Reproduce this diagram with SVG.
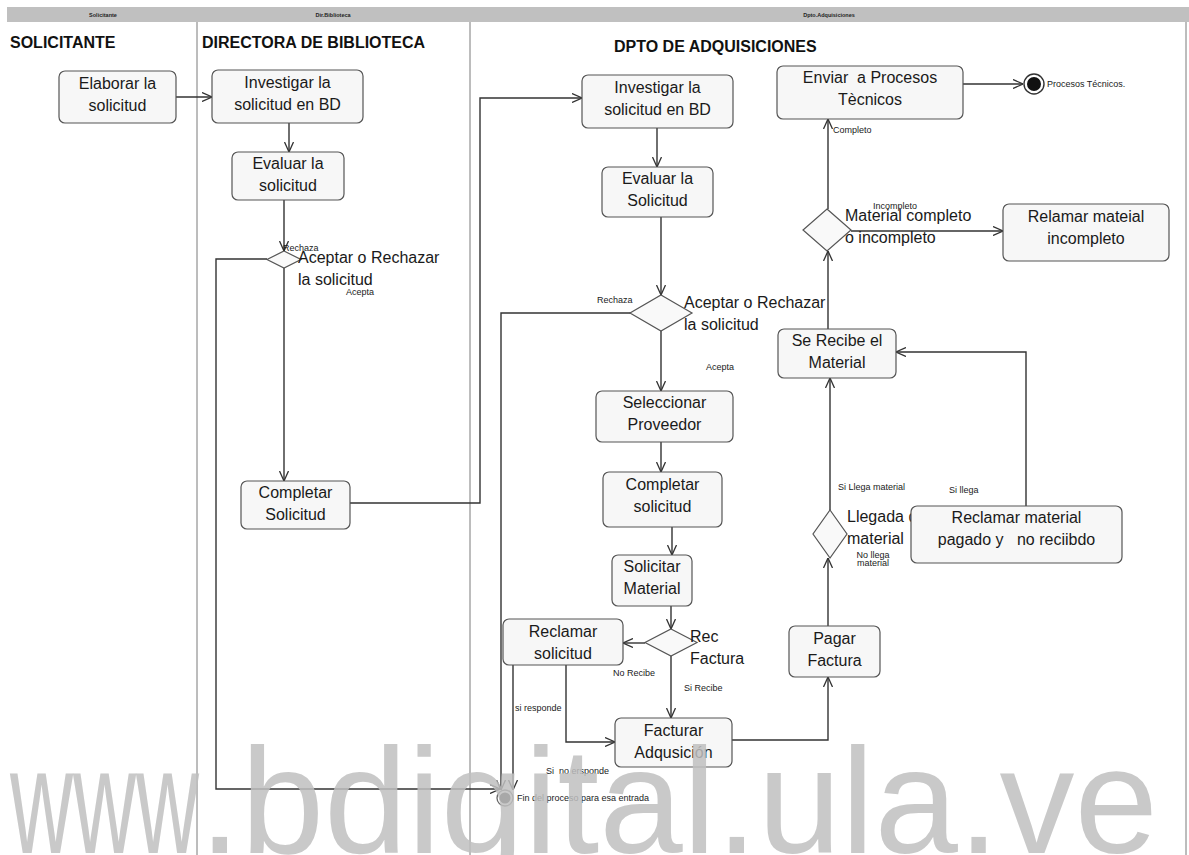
<svg xmlns="http://www.w3.org/2000/svg" width="1189" height="855" viewBox="0 0 1189 855">
  <style>
    .lane { stroke: #7a7a7a; stroke-width: 1; fill: none; }
    .hdr { font-family: "Liberation Sans", Arial, sans-serif; font-size: 5.5px; font-weight: bold; fill: #222; text-anchor: middle; }
    .title { font-family: "Liberation Sans", Arial, sans-serif; font-size: 16px; font-weight: bold; fill: #111; }
    .box { fill: #f7f7f7; stroke: #555; stroke-width: 1.2; }
    .dia { fill: #f9f9f9; stroke: #555; stroke-width: 1.2; }
    .t { font-family: "Liberation Sans", Arial, sans-serif; font-size: 16px; fill: #1a1a1a; text-anchor: middle; }
    .tl { font-family: "Liberation Sans", Arial, sans-serif; font-size: 16px; fill: #1a1a1a; }
    .s { font-family: "Liberation Sans", Arial, sans-serif; font-size: 9px; fill: #1a1a1a; }
    .sc { font-family: "Liberation Sans", Arial, sans-serif; font-size: 9px; fill: #1a1a1a; text-anchor: middle; }
    .c { stroke: #333; stroke-width: 1.4; fill: none; marker-end: url(#arr); }
    .wm { font-family: "Liberation Sans", Arial, sans-serif; font-size: 150px; fill: #bfbfbf; fill-opacity: 0.85; }
  </style>
  <defs>
    <marker id="arr" viewBox="0 0 10 10" refX="10" refY="5" markerWidth="10" markerHeight="10" orient="auto" markerUnits="userSpaceOnUse">
      <path d="M0,0.5 L10,5 L0,9.5" fill="none" stroke="#333" stroke-width="1.3"/>
    </marker>
  </defs>

  <rect width="1189" height="855" fill="#ffffff"/>

  <!-- swimlane header and separators -->
  <g id="lanes">
    <rect x="7" y="7" width="1182" height="15" fill="#c0c0c0"/>
    <text class="hdr" x="103" y="16.5">Solicitante</text>
    <text class="hdr" x="333" y="16.5">Dir.Biblioteca</text>
    <text class="hdr" x="829" y="16.5">Dpto.Adquisiciones</text>
    <line class="lane" x1="197" y1="22" x2="197" y2="855"/>
    <line class="lane" x1="470" y1="22" x2="470" y2="855"/>
    <line class="lane" x1="1186" y1="22" x2="1186" y2="855"/>
    <text class="title" x="10" y="48">SOLICITANTE</text>
    <text class="title" x="202" y="48">DIRECTORA DE BIBLIOTECA</text>
    <text class="title" x="614" y="52">DPTO DE ADQUISICIONES</text>
  </g>

  <!-- connectors -->
  <g id="connectors">
    <path class="c" d="M176,97 L212,97"/>
    <path class="c" d="M289,123 L289,152"/>
    <path class="c" d="M284,200 L284,251"/>
    <path class="c" d="M267,259 L216,259 L216,789 L500,789"/>
    <path class="c" d="M284,268 L284,481"/>
    <path class="c" d="M350,503 L480,503 L480,98 L582,98"/>
    <path class="c" d="M657,128 L657,167"/>
    <path class="c" d="M661,217 L661,295"/>
    <path class="c" d="M631,313 L501,313 L501,790"/>
    <path class="c" d="M661,331 L661,391"/>
    <path class="c" d="M661,442 L661,472"/>
    <path class="c" d="M672,527 L672,555"/>
    <path class="c" d="M671,606 L671,629"/>
    <path class="c" d="M645,643 L623,643"/>
    <path class="c" d="M671,656 L671,718"/>
    <path class="c" d="M566,665 L566,742 L615,742"/>
    <path class="c" d="M513,665 L513,790"/>
    <path class="c" d="M732,740 L828,740 L828,677"/>
    <path class="c" d="M828,626 L828,558"/>
    <path class="c" d="M830,510 L830,378"/>
    <path class="c" d="M1026,506 L1026,352 L896,352"/>
    <path class="c" d="M828,329 L828,251"/>
    <path class="c" d="M851,231 L1003,231"/>
    <path class="c" d="M828,209 L828,119"/>
    <path class="c" d="M963,84 L1023,84"/>
  </g>

  <!-- Solicitante lane -->
  <g id="elaborar">
    <rect class="box" x="59" y="71" width="117" height="52" rx="6"/>
    <text class="t" x="117.5" y="89">Elaborar la</text>
    <text class="t" x="117.5" y="111">solicitud</text>
  </g>

  <!-- Directora lane -->
  <g id="dir-investigar">
    <rect class="box" x="212" y="70" width="151" height="53" rx="6"/>
    <text class="t" x="287.5" y="88">Investigar la</text>
    <text class="t" x="287.5" y="110">solicitud en BD</text>
  </g>
  <g id="dir-evaluar">
    <rect class="box" x="232" y="152" width="112" height="48" rx="6"/>
    <text class="t" x="288" y="169">Evaluar la</text>
    <text class="t" x="288" y="191">solicitud</text>
  </g>
  <g id="dir-decision">
    <polygon class="dia" points="284,251 301,259.5 284,268 267,259.5"/>
    <text class="tl" x="298" y="263">Aceptar o Rechazar</text>
    <text class="tl" x="298" y="285">la solicitud</text>
    <text class="s" x="283" y="251">Rechaza</text>
    <text class="s" x="346" y="295">Acepta</text>
  </g>
  <g id="dir-completar">
    <rect class="box" x="241" y="481" width="109" height="48" rx="6"/>
    <text class="t" x="295.5" y="498">Completar</text>
    <text class="t" x="295.5" y="520">Solicitud</text>
  </g>

  <!-- Adquisiciones lane -->
  <g id="dp-investigar">
    <rect class="box" x="582" y="75" width="151" height="53" rx="6"/>
    <text class="t" x="657.5" y="93">Investigar la</text>
    <text class="t" x="657.5" y="115">solicitud en BD</text>
  </g>
  <g id="dp-evaluar">
    <rect class="box" x="602" y="167" width="111" height="50" rx="6"/>
    <text class="t" x="657.5" y="184">Evaluar la</text>
    <text class="t" x="657.5" y="206">Solicitud</text>
  </g>
  <g id="dp-decision">
    <polygon class="dia" points="661,295 692,313 661,331 630,313"/>
    <text class="tl" x="684" y="308">Aceptar o Rechazar</text>
    <text class="tl" x="684" y="330">la solicitud</text>
    <text class="s" x="597" y="303">Rechaza</text>
    <text class="s" x="706" y="370">Acepta</text>
  </g>
  <g id="dp-seleccionar">
    <rect class="box" x="596" y="391" width="137" height="51" rx="6"/>
    <text class="t" x="664.5" y="408">Seleccionar</text>
    <text class="t" x="664.5" y="430">Proveedor</text>
  </g>
  <g id="dp-completar">
    <rect class="box" x="603" y="472" width="119" height="55" rx="6"/>
    <text class="t" x="662.5" y="490">Completar</text>
    <text class="t" x="662.5" y="512">solicitud</text>
  </g>
  <g id="dp-solicitar">
    <rect class="box" x="612" y="555" width="80" height="51" rx="6"/>
    <text class="t" x="652" y="572">Solicitar</text>
    <text class="t" x="652" y="594">Material</text>
  </g>
  <g id="dp-rec-factura">
    <polygon class="dia" points="671,629 697,642.5 671,656 645,642.5"/>
    <text class="tl" x="690" y="642">Rec</text>
    <text class="tl" x="690" y="664">Factura</text>
    <text class="s" x="613" y="676">No Recibe</text>
    <text class="s" x="684" y="691">Si Recibe</text>
  </g>
  <g id="dp-reclamar-solicitud">
    <rect class="box" x="503" y="619" width="120" height="46" rx="6"/>
    <text class="t" x="563" y="637">Reclamar</text>
    <text class="t" x="563" y="659">solicitud</text>
    <text class="s" x="515" y="711">si responde</text>
    <text class="s" x="546" y="774" xml:space="preserve">Si  no ersponde</text>
  </g>
  <g id="dp-facturar">
    <rect class="box" x="615" y="718" width="117" height="49" rx="6"/>
    <text class="t" x="673.5" y="736">Facturar</text>
    <text class="t" x="673.5" y="758">Adqusición</text>
  </g>
  <g id="fin-entrada">
    <circle cx="505" cy="798" r="8" fill="#ffffff" stroke="#666" stroke-width="1.3"/>
    <circle cx="505" cy="798" r="5.5" fill="#222"/>
    <text class="s" x="517" y="801">Fin del proceso para esa entrada</text>
  </g>
  <g id="dp-pagar">
    <rect class="box" x="789" y="626" width="91" height="51" rx="6"/>
    <text class="t" x="834.5" y="644">Pagar</text>
    <text class="t" x="834.5" y="666">Factura</text>
  </g>
  <g id="dp-llegada">
    <polygon class="dia" points="830,510 847,534 830,558 813,534"/>
    <text class="tl" x="847" y="522">Llegada de</text>
    <text class="tl" x="847" y="544">material</text>
    <text class="sc" x="873" y="558">No llega</text>
    <text class="sc" x="873" y="566">material</text>
    <text class="s" x="838" y="490">Si Llega material</text>
    <text class="s" x="949" y="493">Si llega</text>
  </g>
  <g id="dp-reclamar-material">
    <rect class="box" x="911" y="506" width="211" height="57" rx="6"/>
    <text class="t" x="1016.5" y="523">Reclamar material</text>
    <text class="t" x="1016.5" y="545" xml:space="preserve">pagado y   no reciibdo</text>
  </g>
  <g id="dp-recibe">
    <rect class="box" x="778" y="329" width="118" height="49" rx="6"/>
    <text class="t" x="837" y="346">Se Recibe el</text>
    <text class="t" x="837" y="368">Material</text>
  </g>
  <g id="dp-completo">
    <polygon class="dia" points="827,209 851,230 827,251 803,230"/>
    <text class="tl" x="845" y="221">Material completo</text>
    <text class="tl" x="845" y="243">o incompleto</text>
    <text class="s" x="873" y="209">Incompleto</text>
    <text class="s" x="833" y="133">Completo</text>
  </g>
  <g id="dp-relamar">
    <rect class="box" x="1003" y="204" width="166" height="57" rx="6"/>
    <text class="t" x="1086" y="222">Relamar mateial</text>
    <text class="t" x="1086" y="244">incompleto</text>
  </g>
  <g id="dp-enviar">
    <rect class="box" x="777" y="66" width="186" height="53" rx="6"/>
    <text class="t" x="870" y="83" xml:space="preserve">Enviar  a Procesos</text>
    <text class="t" x="870" y="105">Tècnicos</text>
  </g>
  <g id="fin-tecnicos">
    <circle cx="1034" cy="84" r="10" fill="#ffffff" stroke="#333" stroke-width="1.4"/>
    <circle cx="1034" cy="84" r="7" fill="#111"/>
    <text class="s" x="1047" y="87">Procesos Técnicos.</text>
  </g>

  <!-- repository mark across the bottom: narrow "www", regular remainder -->
  <g id="mark">
    <text class="wm" x="10" y="853" textLength="189" lengthAdjust="spacingAndGlyphs">www</text>
    <text class="wm" x="199" y="853">.bdigital.ula.ve</text>
  </g>
</svg>
